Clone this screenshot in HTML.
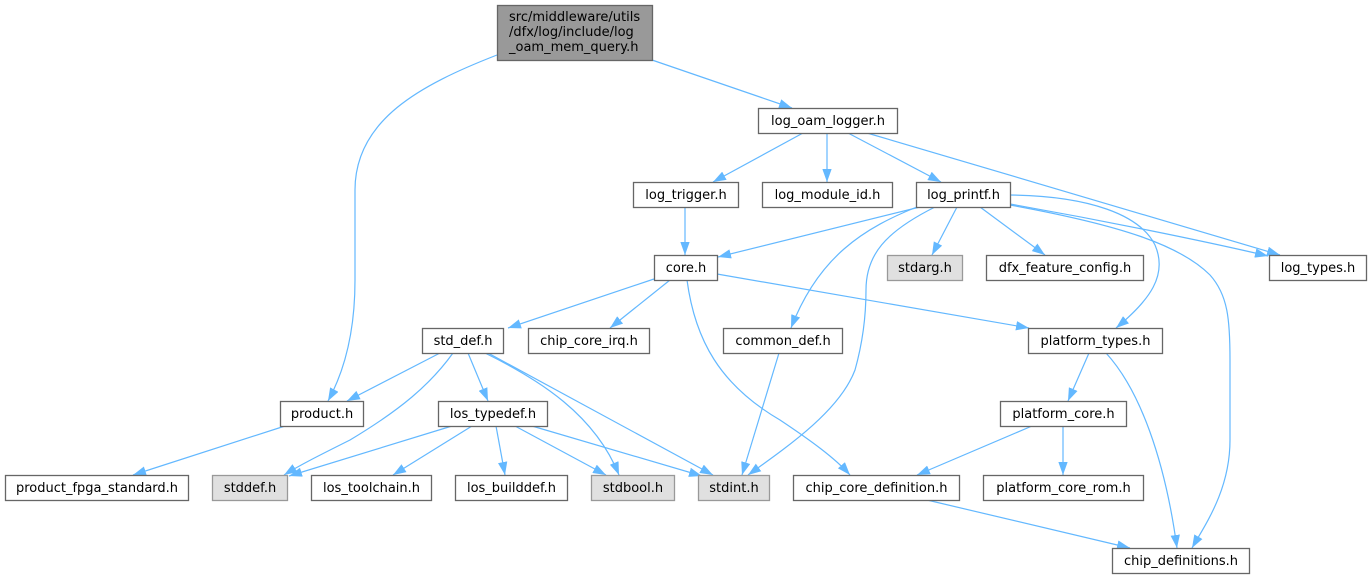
<!DOCTYPE html>
<html>
<head>
<meta charset="utf-8">
<style>
html,body{margin:0;padding:0;background:#fff;}
body{width:1372px;height:579px;overflow:hidden;}
svg{display:block;}
text{font-family:"DejaVu Sans","Liberation Sans",sans-serif;font-size:13px;fill:#000;}
.n{fill:#fff;stroke:#666;stroke-width:1.3;}
.g{fill:#e0e0e0;stroke:#999;stroke-width:1.3;}
.r{fill:#999;stroke:#666;stroke-width:1.3;}
.e{fill:none;stroke:#63b8ff;stroke-width:1.2;marker-end:url(#a);}
</style>
</head>
<body>
<svg width="1372" height="579" viewBox="0 0 1372 579" xmlns="http://www.w3.org/2000/svg">
<defs>
<marker id="a" viewBox="0 0 13 9.4" refX="13" refY="4.7" markerWidth="13" markerHeight="9.4" markerUnits="userSpaceOnUse" orient="auto">
<path d="M0,0 L13,4.7 L0,9.4 z" fill="#63b8ff"/>
</marker>
</defs>

<!-- edges -->
<path class="e" d="M652,60 L792,108"/>
<path class="e" d="M497,55 C420,85 355,120 355,190 L355,280 C355,330 345,370 328,401"/>
<path class="e" d="M803,133 L713,182"/>
<path class="e" d="M827,133 L827,182"/>
<path class="e" d="M848,133 L941,182"/>
<path class="e" d="M867,133 L1280,255"/>
<path class="e" d="M685,207 L685,255"/>
<path class="e" d="M920,207 L718,257"/>
<path class="e" d="M957,207 L932,255"/>
<path class="e" d="M980,207 L1045,255"/>
<path class="e" d="M922,205 C862,228 818,258 791,328"/>
<path class="e" d="M935,207 C885,232 866,255 866,290 C866,320 862,345 855,370 C840,410 790,445 748,475"/>
<path class="e" d="M1010,195 C1090,196 1140,215 1155,245 C1168,275 1150,300 1116,328"/>
<path class="e" d="M1010,204 C1100,220 1200,240 1268,256"/>
<path class="e" d="M1010,205 C1120,225 1180,245 1210,275 C1228,295 1230,320 1230,360 L1230,440 C1230,490 1205,525 1192,548"/>
<path class="e" d="M654,279 L508,328"/>
<path class="e" d="M670,280 L610,328"/>
<path class="e" d="M717,274 L1029,328"/>
<path class="e" d="M687,280 C695,340 720,385 780,420 C810,440 835,458 850,475"/>
<path class="e" d="M440,353 L347,401"/>
<path class="e" d="M468,353 L488,401"/>
<path class="e" d="M453,353 C430,385 400,410 350,440 C320,455 300,465 284,475"/>
<path class="e" d="M485,353 C540,380 595,415 619,475"/>
<path class="e" d="M488,353 L713,475"/>
<path class="e" d="M779,353 L742,475"/>
<path class="e" d="M1089,353 L1068,401"/>
<path class="e" d="M1106,353 C1140,390 1165,460 1177,548"/>
<path class="e" d="M285,426 L133,475"/>
<path class="e" d="M452,426 L289,476"/>
<path class="e" d="M472,426 L393,475"/>
<path class="e" d="M496,426 L505,475"/>
<path class="e" d="M515,426 L606,475"/>
<path class="e" d="M532,426 L702,476"/>
<path class="e" d="M1032,426 L917,475"/>
<path class="e" d="M1063,426 L1063,475"/>
<path class="e" d="M927,500 L1130,548"/>

<!-- nodes -->
<rect class="r" x="497.5" y="5.5" width="155" height="55"/>
<text x="509" y="21">src/middleware/utils</text>
<text x="509" y="36">/dfx/log/include/log</text>
<text x="509" y="51">_oam_mem_query.h</text>

<g text-anchor="middle">
<rect class="n" x="758.5" y="108.5" width="139" height="25"/><text x="828" y="125">log_oam_logger.h</text>
<rect class="n" x="633.5" y="182.5" width="105" height="25"/><text x="686" y="199">log_trigger.h</text>
<rect class="n" x="762.5" y="182.5" width="130" height="25"/><text x="827.5" y="199">log_module_id.h</text>
<rect class="n" x="916.5" y="182.5" width="94" height="25"/><text x="963.5" y="199">log_printf.h</text>

<rect class="n" x="1269.5" y="255.5" width="97" height="25"/><text x="1318" y="272">log_types.h</text>
<rect class="n" x="654.5" y="255.5" width="63" height="25"/><text x="686" y="272">core.h</text>
<rect class="g" x="887.5" y="255.5" width="75" height="25"/><text x="925" y="272">stdarg.h</text>
<rect class="n" x="986.5" y="255.5" width="157" height="25"/><text x="1065" y="272">dfx_feature_config.h</text>

<rect class="n" x="422.5" y="328.5" width="81" height="25"/><text x="463" y="345">std_def.h</text>
<rect class="n" x="528.5" y="328.5" width="121" height="25"/><text x="589" y="345">chip_core_irq.h</text>
<rect class="n" x="723.5" y="328.5" width="119" height="25"/><text x="783" y="345">common_def.h</text>
<rect class="n" x="1028.5" y="328.5" width="134" height="25"/><text x="1095.5" y="345">platform_types.h</text>

<rect class="n" x="280.5" y="401.5" width="83" height="25"/><text x="322" y="418">product.h</text>
<rect class="n" x="438.5" y="401.5" width="109" height="25"/><text x="493" y="418">los_typedef.h</text>
<rect class="n" x="1000.5" y="401.5" width="126" height="25"/><text x="1063.5" y="418">platform_core.h</text>

<rect class="n" x="5.5" y="475.5" width="183" height="25"/><text x="97" y="492">product_fpga_standard.h</text>
<rect class="g" x="212.5" y="475.5" width="75" height="25"/><text x="250" y="492">stddef.h</text>
<rect class="n" x="311.5" y="475.5" width="120" height="25"/><text x="371.5" y="492">los_toolchain.h</text>
<rect class="n" x="455.5" y="475.5" width="112" height="25"/><text x="511.5" y="492">los_builddef.h</text>
<rect class="g" x="591.5" y="475.5" width="83" height="25"/><text x="633" y="492">stdbool.h</text>
<rect class="g" x="698.5" y="475.5" width="71" height="25"/><text x="734" y="492">stdint.h</text>
<rect class="n" x="793.5" y="475.5" width="166" height="25"/><text x="876.5" y="492">chip_core_definition.h</text>
<rect class="n" x="983.5" y="475.5" width="160" height="25"/><text x="1063.5" y="492">platform_core_rom.h</text>

<rect class="n" x="1112.5" y="548.5" width="137" height="25"/><text x="1181" y="565">chip_definitions.h</text>
</g>
</svg>
</body>
</html>
